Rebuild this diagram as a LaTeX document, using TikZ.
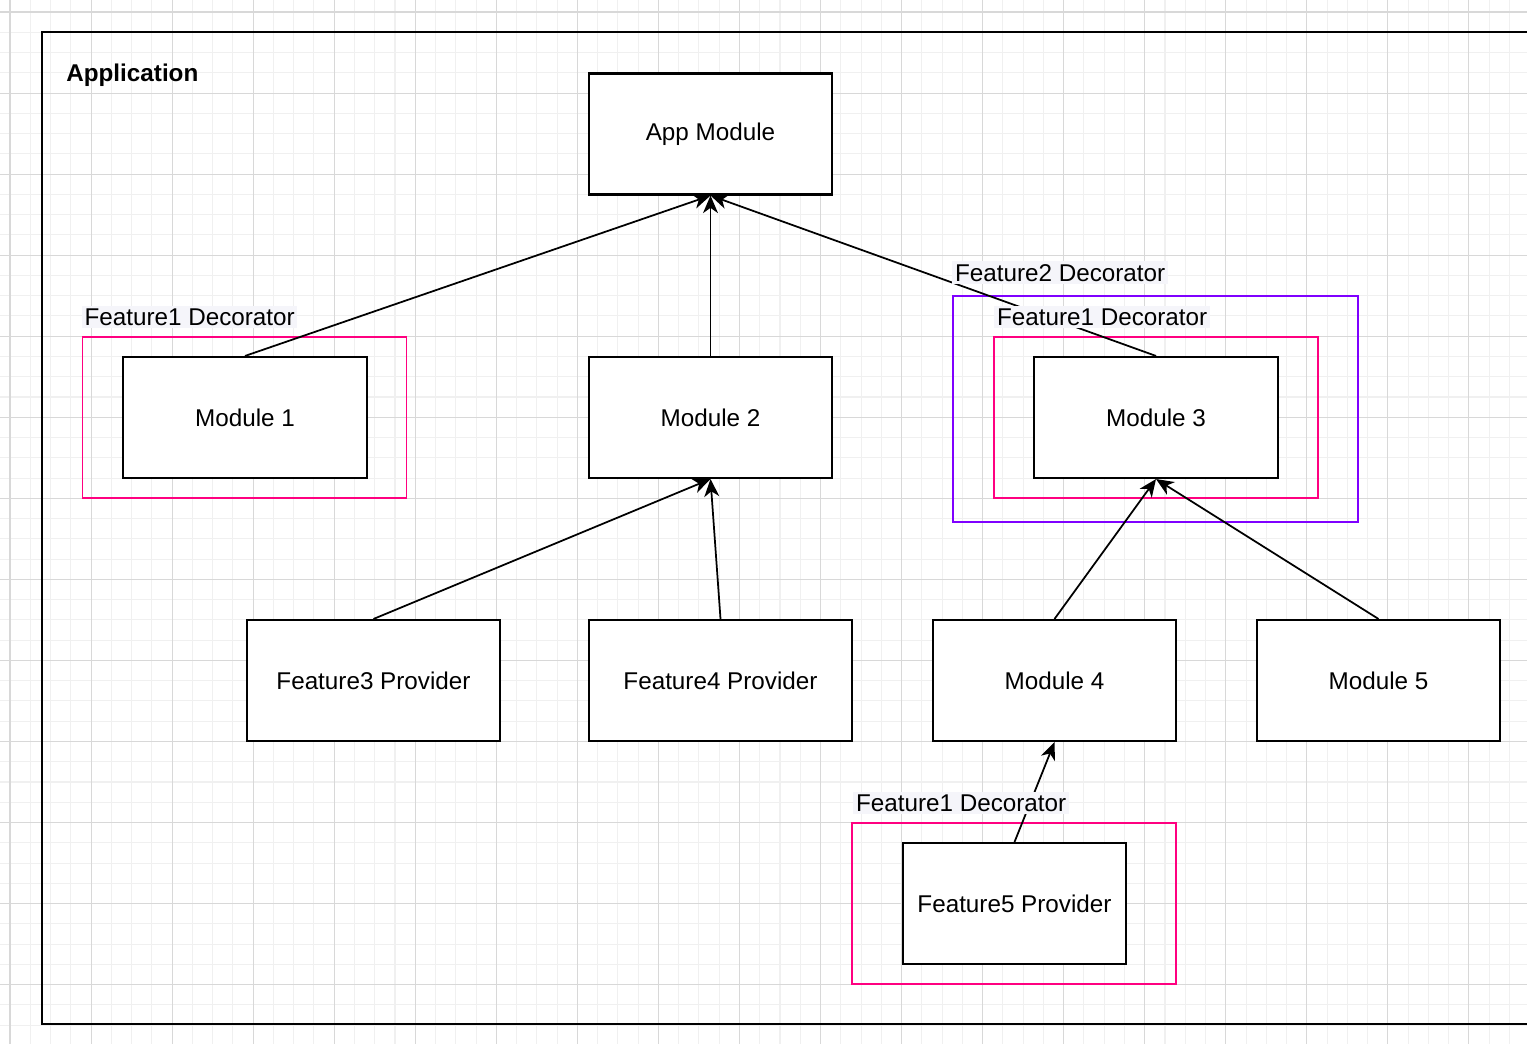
\documentclass[tikz,border=0pt]{standalone}
\usepackage{fontspec}
\setmainfont{Liberation Sans}
\usetikzlibrary{arrows.meta,calc}

\definecolor{decopink}{RGB}{255,0,128}
\definecolor{decopurple}{RGB}{127,0,255}
\definecolor{labelbg}{RGB}{245,245,250}
\definecolor{gridminor}{RGB}{240,240,240}
\definecolor{gridmajor}{RGB}{216,216,216}

\tikzset{
	modbox/.style={draw, line width=1.2pt, fill=white, minimum width=4.87cm, minimum height=2.42cm, inner sep=0pt},
	decobox/.style={draw=decopink, line width=1.1pt, minimum width=6.48cm, minimum height=3.22cm},
	declabel/.style={fill=labelbg, inner sep=1.5pt, anchor=base west},
	depends/.style={-{Stealth[length=10pt,width=8.5pt,inset=3pt]}, line width=1pt},
	minorline/.style={gridminor, line width=0.6pt},
	majorline/.style={gridmajor, line width=0.6pt}
}

\begin{document}
\begin{tikzpicture}[x=0.02cm, y=-0.02cm, font=\fontsize{13.8}{16}\selectfont]
		\useasboundingbox (0,0) rectangle (1527,1044);
		\clip (0,0) rectangle (1527,1044);
		\fill[white] (0,0) rectangle (1527,1044);		% background
		
		% grid
		\foreach \i in {0,...,74} \draw[minorline] ({10+20.263*\i},0) -- ({10+20.263*\i},1044);
		\foreach \i in {0,...,50} \draw[minorline] (0,{12+20.263*\i}) -- (1527,{12+20.263*\i});
		\foreach \i in {0,...,18} \draw[majorline] ({10+81.05*\i},0) -- ({10+81.05*\i},1044);
		\foreach \i in {0,...,12} \draw[majorline] (0,{12+81.05*\i}) -- (1527,{12+81.05*\i});
		
		% application frame
		\draw[line width=1.3pt] (42,32) rectangle (1570,1024);
		\node[anchor=base west, inner sep=0pt, font=\fontsize{13.8}{16}\selectfont\bfseries] (apptitle) at (66,82) {Application};
		
		% decorators
		\node[decobox] (deco1) at (244.5,417.5) {};
		\node[decobox, draw=decopurple, minimum width=8.1cm, minimum height=4.52cm] (deco2) at (1155.5,409) {};
		\node[decobox] (deco3) at (1156,417.5) {};
		\node[decobox] (deco5) at (1014,903.5) {};
		
		% modules
		\node[modbox] (app) at (710.5,134) {App Module};
		\node[modbox] (mod1) at (245,417.5) {Module 1};
		\node[modbox] (mod2) at (710.5,417.5) {Module 2};
		\node[modbox] (mod3) at (1156,417.5) {Module 3};
		\node[modbox, minimum width=5.06cm] (feat3) at (373.5,680.5) {Feature3 Provider};
		\node[modbox, minimum width=5.26cm] (feat4) at (720.5,680.5) {Feature4 Provider};
		\node[modbox] (mod4) at (1054.5,680.5) {Module 4};
		\node[modbox] (mod5) at (1378.5,680.5) {Module 5};
		\node[modbox, minimum width=4.46cm] (feat5) at (1014.5,903.5) {Feature5 Provider};
		
		% dependencies
		\draw[depends] (mod1.north) -- (app.south);
		\draw[depends] (mod2.north) -- (app.south);
		\draw[depends] (mod3.north) -- (app.south);
		\draw[depends] (feat3.north) -- (mod2.south);
		\draw[depends] (feat4.north) -- (mod2.south);
		\draw[depends] (mod4.north) -- (mod3.south);
		\draw[depends] (mod5.north) -- (mod3.south);
		\draw[depends] (feat5.north) -- (mod4.south);
		
		% decorator labels
		\node[declabel] (lab1) at ($(deco1.north west)+(0,-11)$) {Feature1 Decorator};
		\node[declabel] (lab2) at ($(deco2.north west)+(0,-14)$) {Feature2 Decorator};
		\node[declabel] (lab3) at ($(deco3.north west)+(1,-11)$) {Feature1 Decorator};
		\node[declabel] (lab5) at ($(deco5.north west)+(2,-11)$) {Feature1 Decorator};
\end{tikzpicture}
\end{document}
